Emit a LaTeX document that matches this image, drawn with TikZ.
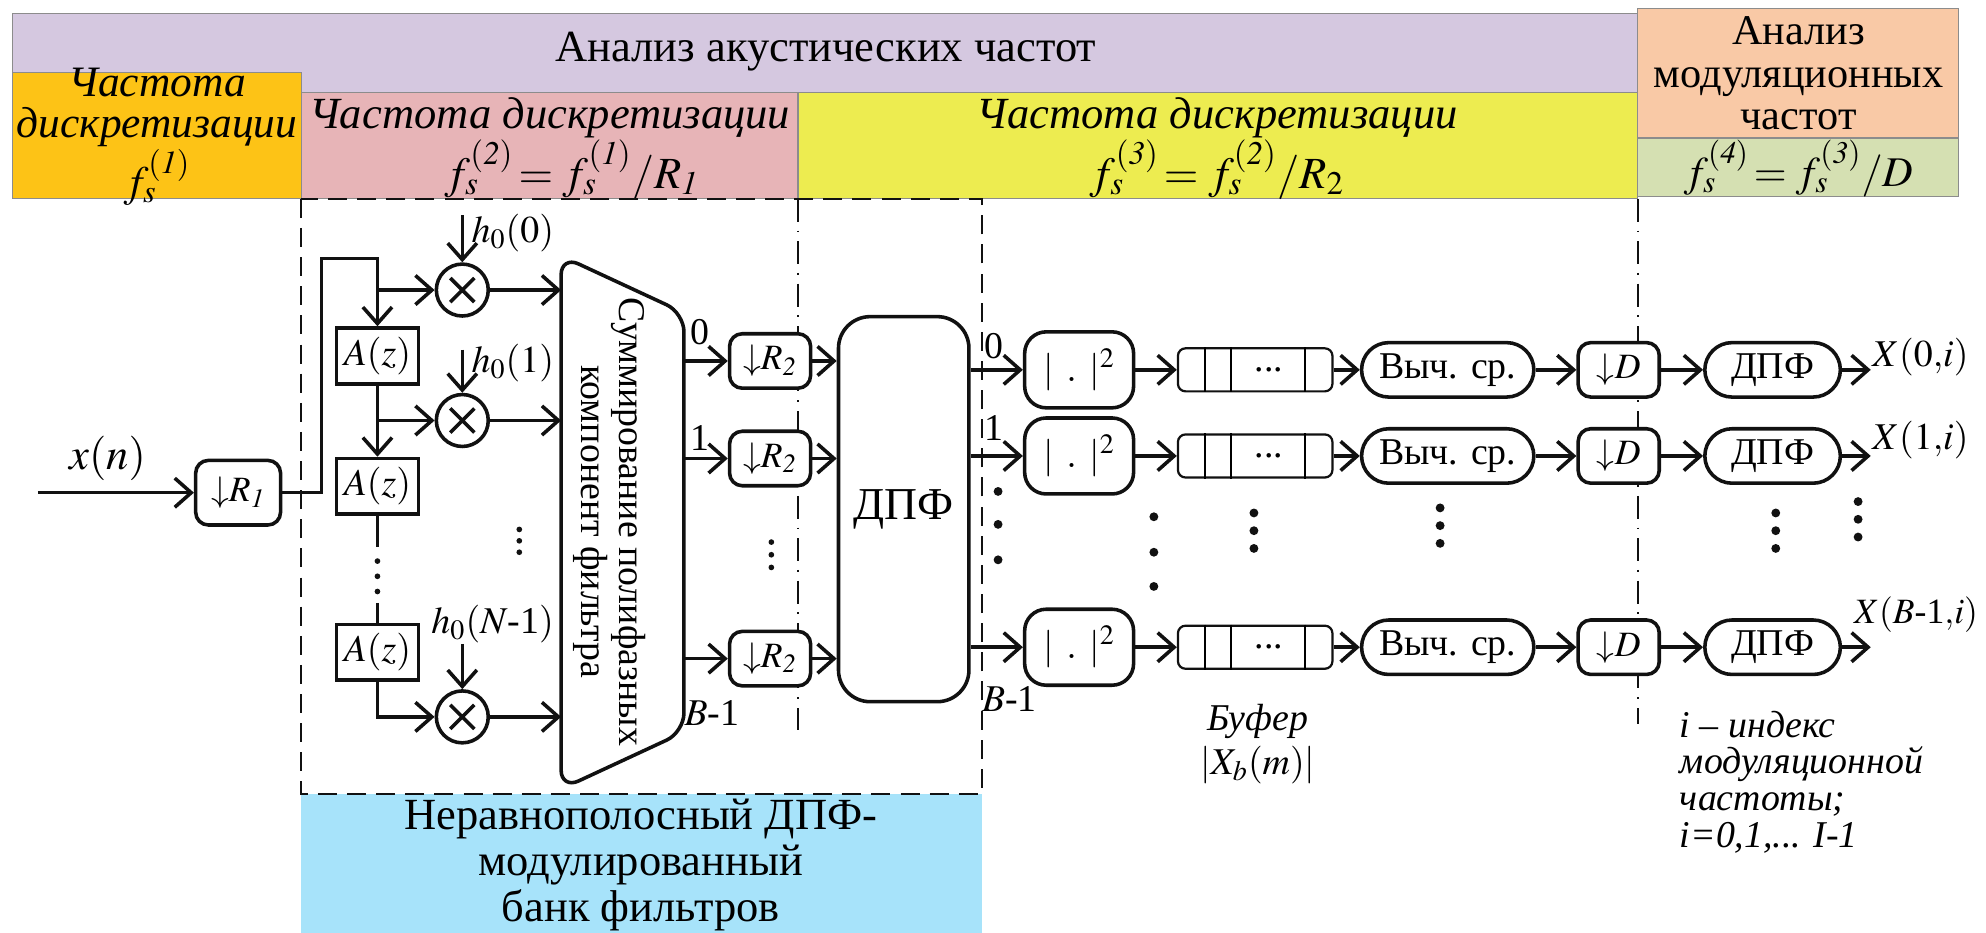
\documentclass[tikz,border=0pt]{standalone}
\usepackage{mathptmx}
\usepackage{fontspec}
\setmainfont{Liberation Serif}
\usepackage{xcolor}
\usetikzlibrary{arrows.meta}
\definecolor{vblack}{HTML}{111111}
\definecolor{vgray}{HTML}{8C8C8C}
\definecolor{vlilac}{HTML}{D5C8E0}
\definecolor{vgold}{HTML}{FDC316}
\definecolor{vpink}{HTML}{E7B4B7}
\definecolor{vyellow}{HTML}{EDEC50}
\definecolor{vpeach}{HTML}{F9C9A6}
\definecolor{vgreen}{HTML}{D5E0B2}
\definecolor{vblue}{HTML}{A7E3FA}

\tikzset{
	line/.style = {draw = vblack, line width = 1.6pt},
	wire/.style = {line, -{Straight Barb[length = 2.6mm, width = 4.6mm]}},
	band/.style = {draw = vgray, line width = 0.5pt},
	fbox/.style = {draw = vblack, line width = 0.9pt, dash pattern = on 3mm off 1.6mm},
	ddot/.style = {draw = vblack, line width = 0.8pt, dash pattern = on 3.6mm off 1.4mm on 0.3mm off 1.4mm},
	lbl/.style = {inner sep = 0pt, font = \fontsize{17}{19}\selectfont},
	head/.style = {inner sep = 0pt, align = center, font = \fontsize{20}{20.5}\selectfont},
	blk/.style = {line, fill = white, inner sep = 0pt, font = \fontsize{17}{19}\selectfont},
	dnbox/.style = {blk, rounded corners = 2mm, minimum width = 12.8mm, minimum height = 8.6mm, font = \fontsize{16}{18}\selectfont},
	azbox/.style = {blk, minimum width = 13mm, minimum height = 8.8mm},
	sqbox/.style = {blk, rounded corners = 3.4mm, minimum width = 17.2mm, minimum height = 12mm},
	pill/.style = {blk, rounded corners = 4.3mm, minimum height = 8.6mm},
	buf/.style = {draw = vblack, fill = white, line width = 1pt, rounded corners = 1.2mm, minimum width = 24.4mm, minimum height = 6.8mm, inner sep = 0pt},
	mult/.style = {blk, circle, minimum size = 8.2mm, path picture = {
		\draw[line width = 1.6pt] ([shift = {(-1.9mm,-1.9mm)}]path picture bounding box.center) -- ([shift = {(1.9mm,1.9mm)}]path picture bounding box.center)
			([shift = {(-1.9mm,1.9mm)}]path picture bounding box.center) -- ([shift = {(1.9mm,-1.9mm)}]path picture bounding box.center);}},
}

\begin{document}
\begin{tikzpicture}[x = 0.2mm, y = -0.2mm]
	\useasboundingbox (0,0) rectangle (1568,736.6);
	% header bands
	\draw[band, fill = vlilac] (10,10.7) rectangle (1293,73);
	\draw[band, fill = vgold] (10,57) rectangle (238,157);
	\draw[band, fill = vpink] (238,73) rectangle (630,157);
	\draw[band, fill = vyellow] (630,73) rectangle (1293,157);
	\draw[band, fill = vpeach] (1293,6.5) rectangle (1546,109);
	\draw[band, fill = vgreen] (1293,109) rectangle (1546,155);
	\fill[vblue] (238,627) rectangle (775,736.6);
	\node[head] (acoust) at (652,41) {Анализ акустических частот};
	\node[head, font = \fontsize{19}{19}\selectfont] (modhead) at (1420,58) {Анализ\\модуляционных\\частот};
	\node[head, font = \fontsize{19.5}{18.5}\selectfont\itshape] (fsone) at (124,108) {Частота\\дискретизации\\$f_s^{(\mathit{1})}$};
	\node[head, font = \fontsize{20}{21}\selectfont\itshape] (fstwo) at (434,117) {Частота дискретизации\\\hspace*{7mm}$f_s^{(\mathit{2})}\!=f_s^{(\mathit{1})}/R_{\mathit{1}}$};
	\node[head, font = \fontsize{20}{21}\selectfont\itshape] (fsthree) at (961,117) {Частота дискретизации\\$f_s^{(\mathit{3})}\!=f_s^{(\mathit{2})}/R_2$};
	\node[head, font = \fontsize{19}{20}\selectfont\itshape] (fsfour) at (1420,133) {$f_s^{(\mathit{4})}\!=f_s^{(\mathit{3})}/D$};

	% filter bank frame
	\draw[fbox] (238,157) rectangle (775,627);
	\draw[ddot] (630,157) -- (630,576);
	\draw[ddot] (1293,157) -- (1293,572);
	\node[head] (bank) at (506,683) {Неравнополосный ДПФ-\\модулированный\\банк фильтров};

	% input and first decimator
	\node[lbl, font = \fontsize{20}{22}\selectfont] (xn) at (85,362) {$x(n)$};
	\coordinate (in) at (30,389);
	\node[dnbox, minimum width = 13.4mm, minimum height = 10.2mm] (rone) at (188,389) {$\downarrow\!\!R_{\mathit{1}}$};
	\draw[wire] (in) -- (rone);

	% polyphase branches
	\coordinate (upl) at (254,204);
	\coordinate (upr) at (298,204);
	\node[azbox] (az1) at (298,281) {$A(z)$};
	\node[azbox] (az2) at (298,384) {$A(z)$};
	\node[azbox] (az3) at (298,515) {$A(z)$};
	\node[mult] (m1) at (365,229) {};
	\node[mult] (m2) at (365,332) {};
	\node[mult] (m3) at (365,566) {};
	\draw[wire] (rone.east) -| (upl) -- (upr) -- (az1);
	\draw[wire] (m1 -| az1) -- (m1);
	\draw[wire] (az1) -- (az2);
	\draw[wire] (m2 -| az1) -- (m2);
	\coordinate (gapt) at (298,432);
	\coordinate (gapb) at (298,476);
	\draw[line] (az2) -- (gapt);
	\fill[vblack] (298,443) circle (0.45mm) (298,455) circle (0.45mm) (298,467) circle (0.45mm);
	\draw[line] (gapb) -- (az3);
	\draw[wire] (az3) |- (m3);
	\node[lbl, anchor = west] (hz) at (372,184) {$h_0(0)$};
	\coordinate (hzt) at (365,170);
	\draw[wire] (hzt) -- (m1);
	\node[lbl, anchor = west] (ho) at (372,287) {$h_0(1)$};
	\coordinate (hot) at (365,276);
	\draw[wire] (hot) -- (m2);
	\node[lbl] (hn) at (389,493) {$h_0(N$-1$)$};
	\draw[wire] (hn.south -| m3) -- (m3);
	\fill[vblack] (410,418) circle (0.45mm) (410,427) circle (0.45mm) (410,436) circle (0.45mm);

	% summation of polyphase components
	\draw[line, rounded corners = 3mm] (443,202) -- (540,247) -- (540,578) -- (443,623) -- cycle;
	\coordinate (sumL) at (443,0);
	\coordinate (sumR) at (540,0);
	\node[rotate = -90, align = center, inner sep = 0pt, font = \fontsize{17}{17}\selectfont] (sumtxt) at (481,412) {Суммирование полифазных\\компонент фильтра};
	\draw[wire] (m1) -- (m1 -| sumL);
	\draw[wire] (m2) -- (m2 -| sumL);
	\draw[wire] (m3) -- (m3 -| sumL);

	% second decimators
	\node[dnbox] (rtwoa) at (608,285) {$\downarrow\!\!R_{\mathit{2}}$};
	\node[dnbox] (rtwob) at (608,362) {$\downarrow\!\!R_{\mathit{2}}$};
	\node[dnbox] (rtwoc) at (608,520) {$\downarrow\!\!R_{\mathit{2}}$};
	\draw[wire] (rtwoa -| sumR) -- (rtwoa);
	\draw[wire] (rtwob -| sumR) -- (rtwob);
	\draw[wire] (rtwoc -| sumR) -- (rtwoc);
	\node[lbl] (oa) at (553,262) {0};
	\node[lbl] (ob) at (553,346) {1};
	\node[lbl] (oc) at (562,563) {$B$-1};
	\fill[vblack] (609,428) circle (0.45mm) (609,438) circle (0.45mm) (609,448) circle (0.45mm);

	% DFT
	\node[line, rounded corners = 5mm, minimum width = 20.6mm, minimum height = 60.8mm, inner sep = 0pt, font = \fontsize{20.5}{22}\selectfont] (dft) at (713.5,402) {ДПФ};
	\draw[wire] (rtwoa) -- (rtwoa -| dft.west);
	\draw[wire] (rtwob) -- (rtwob -| dft.west);
	\draw[wire] (rtwoc) -- (rtwoc -| dft.west);

	% band 0
	\node[sqbox] (sqa) at (852,292) {$|\hspace{2mm}.\hspace{2mm}|^2$};
	\node[buf] (bfa) at (991,292) {};
	\node[pill, minimum width = 27.2mm] (avga) at (1143,292) {Выч. ср.};
	\node[dnbox] (dda) at (1278,292) {$\downarrow\!\!D$};
	\node[pill, minimum width = 21.4mm] (dfta) at (1399.5,292) {ДПФ};
	\coordinate (outa) at (1477,292);
	\draw[wire] (sqa -| dft.east) -- (sqa);
	\draw[wire] (sqa) -- (bfa);
	\draw[wire] (bfa) -- (avga);
	\draw[wire] (avga) -- (dda);
	\draw[wire] (dda) -- (dfta);
	\draw[wire] (dfta) -- (outa);
	\node[lbl] (ra) at (785,273) {0};
	\node[lbl, anchor = south west] (xa) at (1478,297) {$X(0{,}i)$};

	% band 1
	\node[sqbox] (sqb) at (852,360) {$|\hspace{2mm}.\hspace{2mm}|^2$};
	\node[buf] (bfb) at (991,360) {};
	\node[pill, minimum width = 27.2mm] (avgb) at (1143,360) {Выч. ср.};
	\node[dnbox] (ddb) at (1278,360) {$\downarrow\!\!D$};
	\node[pill, minimum width = 21.4mm] (dftb) at (1399.5,360) {ДПФ};
	\coordinate (outb) at (1477,360);
	\draw[wire] (sqb -| dft.east) -- (sqb);
	\draw[wire] (sqb) -- (bfb);
	\draw[wire] (bfb) -- (avgb);
	\draw[wire] (avgb) -- (ddb);
	\draw[wire] (ddb) -- (dftb);
	\draw[wire] (dftb) -- (outb);
	\node[lbl] (rb) at (785,338) {1};
	\node[lbl, anchor = south west] (xb) at (1478,363) {$X(1{,}i)$};

	% band B-1
	\node[sqbox] (sqc) at (852,511) {$|\hspace{2mm}.\hspace{2mm}|^2$};
	\node[buf] (bfc) at (991,511) {};
	\node[pill, minimum width = 27.2mm] (avgc) at (1143,511) {Выч. ср.};
	\node[dnbox] (ddc) at (1278,511) {$\downarrow\!\!D$};
	\node[pill, minimum width = 21.4mm] (dftc) at (1399.5,511) {ДПФ};
	\coordinate (outc) at (1477,511);
	\draw[wire] (sqc -| dft.east) -- (sqc);
	\draw[wire] (sqc) -- (bfc);
	\draw[wire] (bfc) -- (avgc);
	\draw[wire] (avgc) -- (ddc);
	\draw[wire] (ddc) -- (dftc);
	\draw[wire] (dftc) -- (outc);
	\node[lbl] (rc) at (797,552) {$B$-1};
	\node[lbl, anchor = south east, font = \fontsize{16}{18}\selectfont] (xc) at (1562,500) {$X(B$-1${,}i)$};

	% buffer cells
	\draw[line width = 1pt] ([xshift = 4.4mm]bfa.north west) -- ([xshift = 4.4mm]bfa.south west) ([xshift = 8.6mm]bfa.north west) -- ([xshift = 8.6mm]bfa.south west) ([xshift = 20.2mm]bfa.north west) -- ([xshift = 20.2mm]bfa.south west);
	\draw[line width = 1pt] ([xshift = 4.4mm]bfb.north west) -- ([xshift = 4.4mm]bfb.south west) ([xshift = 8.6mm]bfb.north west) -- ([xshift = 8.6mm]bfb.south west) ([xshift = 20.2mm]bfb.north west) -- ([xshift = 20.2mm]bfb.south west);
	\draw[line width = 1pt] ([xshift = 4.4mm]bfc.north west) -- ([xshift = 4.4mm]bfc.south west) ([xshift = 8.6mm]bfc.north west) -- ([xshift = 8.6mm]bfc.south west) ([xshift = 20.2mm]bfc.north west) -- ([xshift = 20.2mm]bfc.south west);
	\node[lbl] (dta) at ([xshift = 2.2mm]bfa.center) {...};
	\node[lbl] (dtb) at ([xshift = 2.2mm]bfb.center) {...};
	\node[lbl] (dtc) at ([xshift = 2.2mm]bfc.center) {...};

	% vertical dots between bands
	\fill[vblack] (788,388) circle (0.7mm) (788,414) circle (0.7mm) (788,442) circle (0.7mm);
	\fill[vblack] (911,408) circle (0.7mm) (911,436) circle (0.7mm) (911,463) circle (0.7mm);
	\fill[vblack] (990,405) circle (0.7mm) (990,419) circle (0.7mm) (990,433) circle (0.7mm);
	\fill[vblack] (1137,401) circle (0.7mm) (1137,415) circle (0.7mm) (1137,429) circle (0.7mm);
	\fill[vblack] (1402,405) circle (0.7mm) (1402,419) circle (0.7mm) (1402,433) circle (0.7mm);
	\fill[vblack] (1467,396) circle (0.7mm) (1467,410) circle (0.7mm) (1467,424) circle (0.7mm);

	% notes
	\node[lbl, font = \fontsize{17}{19}\selectfont\itshape] (buftxt) at (993,570) {Буфер};
	\node[lbl] (bufx) at (993,604) {$|X_b(m)|$};
	\node[lbl, anchor = north west, align = left, font = \fontsize{17}{16.5}\selectfont\itshape] (idx) at (1326,561) {i – индекс\\модуляционной\\частоты;\\i=0,1,... I-1};
\end{tikzpicture}
\end{document}
